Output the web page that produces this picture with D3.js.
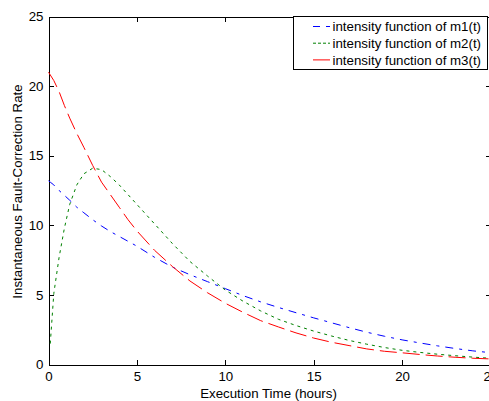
<!DOCTYPE html>
<html>
<head>
<meta charset="utf-8">
<script src="https://cdn.jsdelivr.net/npm/d3@7/dist/d3.min.js"></script>
<style>
  body { margin: 0; background: #fff; }
  svg { display: block; font-family: "Liberation Sans", Arial, sans-serif; }
  .axis path, .axis line { stroke: #000; shape-rendering: crispEdges; }
  .axis text { font-size: 13.3px; fill: #000; }
</style>
</head>
<body>
<svg id="chart" width="489" height="401"></svg>
<script>
// execution time (hours)
var times = [0, 0.1, 0.3, 0.6, 0.9, 1.2, 1.6, 2, 2.5, 3, 3.5, 4, 4.5, 5, 6, 7, 8, 9, 10,
  11, 12, 13, 14, 15, 16, 17, 18, 19, 20, 21, 22, 23, 24, 25];
// intensity functions
var m1 = [13.2, 13.1, 12.9, 12.5, 12.15, 11.8, 11.3, 10.9, 10.4, 9.95, 9.55, 9.2, 8.85, 8.5, 7.7, 7.0, 6.45, 5.95, 5.45,
  4.95, 4.5, 4.1, 3.72, 3.35, 3.0, 2.65, 2.32, 2.03, 1.77, 1.55, 1.34, 1.15, 0.98, 0.85];
var m2 = [null, 1.5, 5.1, 7.7, 9.8, 11.5, 12.9, 13.7, 14.1, 14.0, 13.5, 12.9, 12.2, 11.5, 10.1, 8.7, 7.4, 6.35, 5.35,
  4.55, 3.85, 3.25, 2.8, 2.4, 2.05, 1.73, 1.46, 1.22, 1.02, 0.87, 0.74, 0.63, 0.53, 0.45];
var m3 = [21.0, 20.8, 20.4, 19.6, 18.6, 17.7, 16.6, 15.6, 14.3, 13.1, 12.2, 11.3, 10.4, 9.6, 8.2, 7.05, 6.0, 5.15, 4.4,
  3.75, 3.15, 2.7, 2.27, 1.9, 1.6, 1.36, 1.12, 0.95, 0.84, 0.72, 0.61, 0.52, 0.45, 0.4];
var xTicks = [0, 5, 10, 15, 20, 25];
var yTicks = [0, 5, 10, 15, 20, 25];
var seriesNames = ['intensity function of m1(t)', 'intensity function of m2(t)', 'intensity function of m3(t)'];

var styles = [
  {color: '#0000ff', dash: '8,6,3,6'},
  {color: '#008000', dash: '3,4'},
  {color: '#ff0000', dash: '17,6'}
];

var svg = d3.select('#chart');

var x = d3.scaleLinear().domain([0, 25]).range([48.5, 490.5]);
var y = d3.scaleLinear().domain([0, 25]).range([364.5, 16.5]);

// box and ticks on all four sides, ticks pointing inward
svg.append('g')
  .attr('class', 'axis')
  .attr('transform', 'translate(0,' + y(0) + ')')
  .call(d3.axisBottom(x).tickValues(xTicks).tickSizeInner(-5).tickSizeOuter(0).tickPadding(7));
svg.append('g')
  .attr('class', 'axis')
  .attr('transform', 'translate(0,' + y(25) + ')')
  .call(d3.axisTop(x).tickValues(xTicks).tickSizeInner(-5).tickSizeOuter(0).tickFormat(''));
svg.append('g')
  .attr('class', 'axis')
  .attr('transform', 'translate(' + x(0) + ',0)')
  .call(d3.axisLeft(y).tickValues(yTicks).tickSizeInner(-5).tickSizeOuter(0).tickPadding(5));
svg.append('g')
  .attr('class', 'axis')
  .attr('transform', 'translate(' + x(25) + ',0)')
  .call(d3.axisRight(y).tickValues(yTicks).tickSizeInner(-5).tickSizeOuter(0).tickFormat(''));

svg.selectAll('.axis .domain').attr('fill', 'none');

// curves
var line = d3.line()
  .defined(function(d) { return d[1] !== null; })
  .x(function(d) { return x(d[0]); })
  .y(function(d) { return y(d[1]); });

[m1, m2, m3].forEach(function(vals, i) {
  svg.append('path')
    .datum(times.map(function(t, j) { return [t, vals[j]]; }))
    .attr('fill', 'none')
    .attr('stroke', styles[i].color)
    .attr('stroke-width', 1)
    .attr('stroke-dasharray', styles[i].dash)
    .attr('d', line);
});

// axis labels
svg.append('text')
  .attr('x', 268.5)
  .attr('y', 397.5)
  .attr('text-anchor', 'middle')
  .style('font-size', '13.3px')
  .text('Execution Time (hours)');

svg.append('text')
  .attr('transform', 'translate(21.5,191.5) rotate(-90)')
  .attr('text-anchor', 'middle')
  .style('font-size', '13.3px')
  .text('Instantaneous Fault-Correction Rate');

// legend
var legend = svg.append('g');
legend.append('rect')
  .attr('x', 293.5)
  .attr('y', 16.5)
  .attr('width', 194)
  .attr('height', 52.5)
  .attr('fill', '#fff')
  .attr('stroke', '#000')
  .attr('shape-rendering', 'crispEdges');

var legendDash = ['7,6', '3,2', null];
seriesNames.forEach(function(name, i) {
  var cy = 26.5 + i * 16.7;
  legend.append('line')
    .attr('x1', 313).attr('x2', 330)
    .attr('y1', cy).attr('y2', cy)
    .attr('stroke', styles[i].color)
    .attr('stroke-dasharray', legendDash[i]);
  legend.append('text')
    .attr('x', 332.5)
    .attr('y', cy + 4.8)
    .style('font-size', '13.3px')
    .text(name);
});
</script>
</body>
</html>
